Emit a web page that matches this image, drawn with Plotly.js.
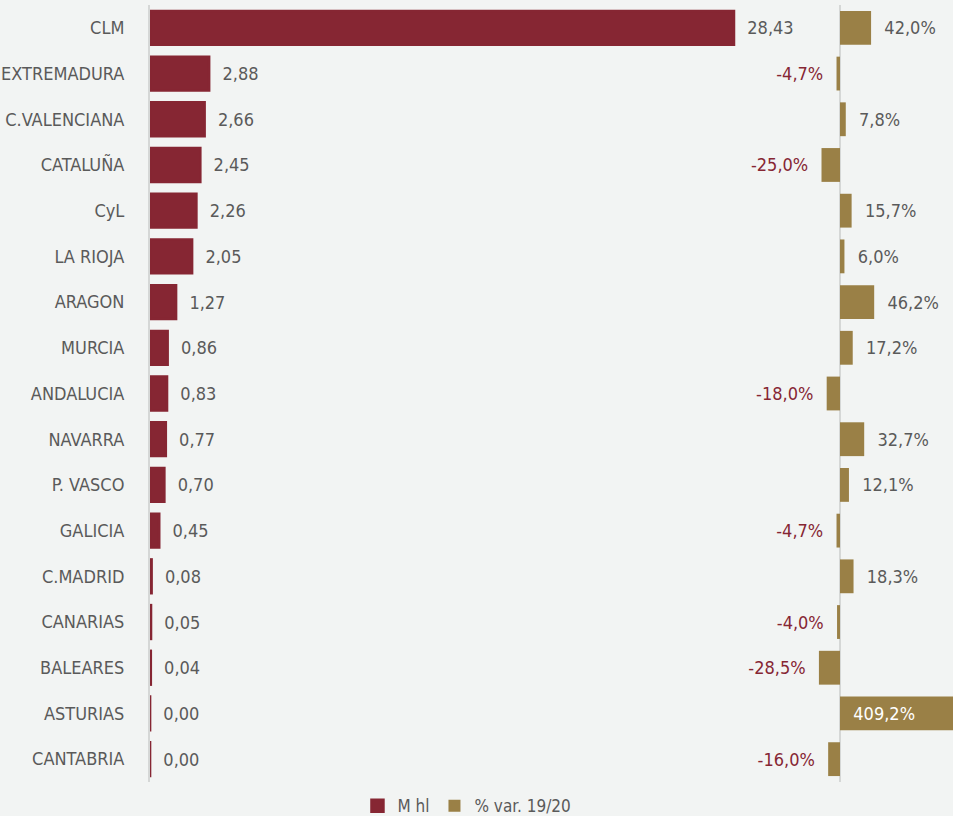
<!DOCTYPE html>
<html>
<head>
<meta charset="utf-8">
<script src="https://cdn.plot.ly/plotly-3.0.1.min.js"></script>
<style>html,body{margin:0;padding:0;background:#f2f4f3;}#chart{width:953px;height:816px;}</style>
</head>
<body>
<div id="chart"></div>
<script>
const regions = ["CLM","EXTREMADURA","C.VALENCIANA","CATALUÑA","CyL","LA RIOJA","ARAGON","MURCIA","ANDALUCIA","NAVARRA","P. VASCO","GALICIA","C.MADRID","CANARIAS","BALEARES","ASTURIAS","CANTABRIA"];
const volumeMhl = [28.43,2.88,2.66,2.45,2.26,2.05,1.27,0.86,0.83,0.77,0.70,0.45,0.08,0.05,0.04,0.004,0.003];
const varPct = [42.0,-4.7,7.8,-25.0,15.7,6.0,46.2,17.2,-18.0,32.7,12.1,-4.7,18.3,-4.0,-28.5,409.2,-16.0];
const seriesNames = ["M hl","% var. 19/20"];

const RED = "#862633", GOLD = "#9a8046", GREY = "#5a5a5a", BG = "#f2f4f3";
const FONT = "'DejaVu Sans Condensed', 'Liberation Sans Narrow', sans-serif";
const NB = "\u00A0\u00A0";

const fmt = (v, d) => v.toFixed(d).replace(".", ",");
const volText = volumeMhl.map(v => NB + fmt(v, 2));
const pctClip = 150;
const pctText = varPct.map(v => v < 0 ? fmt(v, 1) + "%" + NB : NB + fmt(v, 1) + "%");
const pctPos = varPct.map(v => v > pctClip ? "inside" : "outside");
const pctColor = varPct.map(v => v > pctClip ? "#ffffff" : (v < 0 ? RED : GREY));

const traces = [
  {
    type: "bar", orientation: "h", name: seriesNames[0],
    y: regions, x: volumeMhl, xaxis: "x", yaxis: "y",
    marker: {color: RED, line: {color: RED, width: 2.5}},
    text: volText, textposition: "outside", cliponaxis: false, constraintext: "none",
    textfont: {family: FONT, size: 18, color: GREY},
    hoverinfo: "x+y"
  },
  {
    type: "bar", orientation: "h", name: seriesNames[1],
    y: regions, x: varPct, xaxis: "x2", yaxis: "y2",
    marker: {color: GOLD},
    text: pctText, textposition: pctPos, insidetextanchor: "start", cliponaxis: true, constraintext: "none",
    textfont: {family: FONT, size: 18, color: pctColor},
    hoverinfo: "x+y"
  }
];

const plotLeft = 150, plotW = 953 - 150;
const leftEnd = 740, rightStart = 745, zeroPx = 840;
const pxPerUnit = 584 / 28.43, pxPerPct = 0.74;

const layout = {
  width: 953, height: 816,
  paper_bgcolor: BG, plot_bgcolor: BG,
  margin: {l: plotLeft, r: 0, t: 5, b: 34},
  font: {family: FONT, size: 18, color: GREY},
  bargap: 0.26,
  showlegend: true,
  legend: {orientation: "h", xref: "container", yref: "container", x: 0.49, xanchor: "center", y: 0.012, yanchor: "middle",
           font: {family: FONT, size: 17, color: GREY}, bgcolor: "rgba(0,0,0,0)", itemwidth: 30},
  xaxis: {domain: [0, (leftEnd - plotLeft) / plotW], range: [0, (leftEnd - plotLeft) / pxPerUnit],
          showgrid: false, zeroline: false, showticklabels: false, showline: false, fixedrange: true},
  yaxis: {anchor: "x", autorange: "reversed", showgrid: false, showline: true, linecolor: "#d5d7d6", linewidth: 2,
          ticks: "", ticklabelstandoff: 20, tickfont: {family: FONT, size: 18, color: GREY}},
  xaxis2: {domain: [(rightStart - plotLeft) / plotW, 1], range: [-(zeroPx - rightStart) / pxPerPct, (953 - zeroPx) / pxPerPct],
           anchor: "y2", showgrid: false, zeroline: true, zerolinecolor: "#d5d7d6", zerolinewidth: 2,
           showticklabels: false, showline: false},
  yaxis2: {anchor: "x2", matches: "y", autorange: "reversed", showgrid: false, showline: false, showticklabels: false, ticks: ""}
};

Plotly.newPlot("chart", traces, layout, {displayModeBar: false, staticPlot: true});
</script>
</body>
</html>
